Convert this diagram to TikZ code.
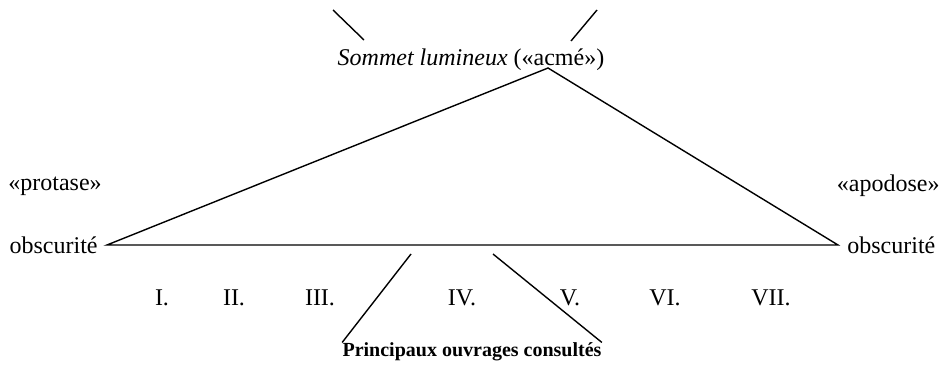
\documentclass[tikz,border=0pt]{standalone}
\usepackage{fontspec}
\setmainfont{Liberation Serif}
\usepackage{tikz}
\usetikzlibrary{positioning}
\tikzset{
  lbl/.style={inner sep=0pt, font=\fontsize{12}{14}\selectfont},
  strokeline/.style={line width=0.7pt, black}
}
\begin{document}
\begin{tikzpicture}[x=0.5pt, y=-0.5pt]
  \useasboundingbox (0,0) rectangle (948,375);
  % triangle vertices
  \coordinate (vleft) at (107,245);
  \coordinate (vapex) at (548,68);
  \coordinate (vright) at (838,245);
  \draw[strokeline] (vleft) -- (vapex) -- (vright) -- cycle;
  % labels
  \node[lbl] (sommet) at (471,60) {\textit{Sommet lumineux} («acmé»)};
  \node[lbl, anchor=west] (protase) at (8,186) {«protase»};
  \node[lbl, anchor=east] (apodose) at (940,186) {«apodose»};
  \node[lbl, left=4.5pt of vleft] (obscleft) {obscurité};
  \node[lbl, right=4.5pt of vright] (obscright) {obscurité};
  \node[lbl, font=\fontsize{10}{12}\selectfont\bfseries] (ouvrages) at (472,352) {Principaux ouvrages consultés};
  % chapters
  \foreach \x/\n/\t in {162/1/I., 234/2/II., 320/3/III., 462/4/IV., 570/5/V., 665/6/VI., 771/7/VII.}
    \node[lbl] (num\n) at (\x,298) {\t};
  % rays
  \coordinate (raytl) at (333,10);
  \coordinate (raytlend) at (364,40);
  \coordinate (raytr) at (597,10);
  \coordinate (raytrend) at (571,41);
  \coordinate (raybl) at (411,254);
  \coordinate (raybr) at (493,254);
  \draw[strokeline] (raytl) -- (raytlend);
  \draw[strokeline] (raytr) -- (raytrend);
  \draw[strokeline] (raybl) -- (ouvrages.north west);
  \draw[strokeline] (raybr) -- (ouvrages.north east);
\end{tikzpicture}
\end{document}
